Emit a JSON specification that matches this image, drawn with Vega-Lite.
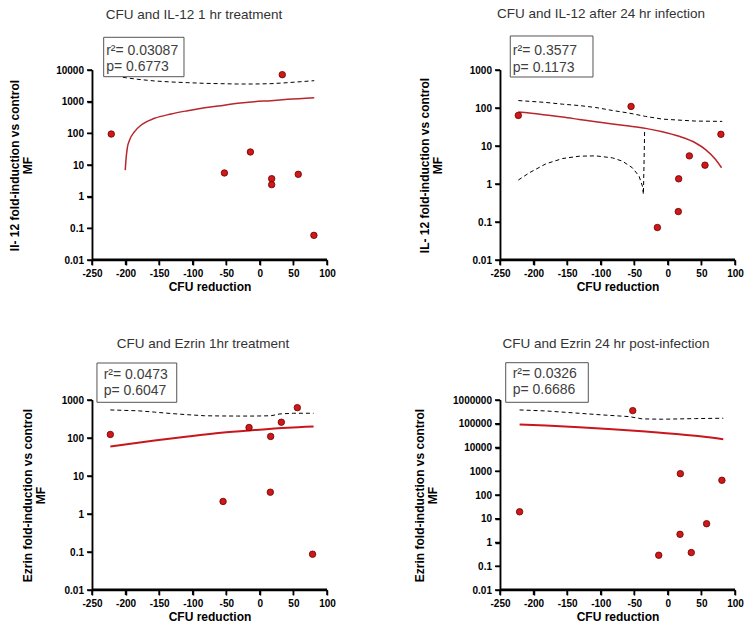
{
  "$schema": "https://vega.github.io/schema/vega-lite/v6.json",
  "padding": {"left": 8, "top": 6, "right": 2, "bottom": 2},
  "background": "white",
  "datasets": {
    "pts": [
      {"panel": "A", "cfu": -221.3, "fold": 95}, {"panel": "A", "cfu": -52.8, "fold": 5.6}, {"panel": "A", "cfu": -14.1, "fold": 25.8}, {"panel": "A", "cfu": 17.6, "fold": 3.7}, {"panel": "A", "cfu": 17.6, "fold": 2.4}, {"panel": "A", "cfu": 33.4, "fold": 7130}, {"panel": "A", "cfu": 57.2, "fold": 5.07}, {"panel": "A", "cfu": 80.5, "fold": 0.06},
      {"panel": "B", "cfu": -222.7, "fold": 63.8}, {"panel": "B", "cfu": -54.8, "fold": 110}, {"panel": "B", "cfu": -15.6, "fold": 0.0716}, {"panel": "B", "cfu": 16.1, "fold": 1.37}, {"panel": "B", "cfu": 15.6, "fold": 0.188}, {"panel": "B", "cfu": 32, "fold": 5.5}, {"panel": "B", "cfu": 55.3, "fold": 3.13}, {"panel": "B", "cfu": 79, "fold": 20.3},
      {"panel": "C", "cfu": -222.7, "fold": 124}, {"panel": "C", "cfu": -54.8, "fold": 2.14}, {"panel": "C", "cfu": -16.1, "fold": 189}, {"panel": "C", "cfu": 16.1, "fold": 110}, {"panel": "C", "cfu": 15.6, "fold": 3.75}, {"panel": "C", "cfu": 32, "fold": 260}, {"panel": "C", "cfu": 55.8, "fold": 630}, {"panel": "C", "cfu": 78.5, "fold": 0.0875},
      {"panel": "D", "cfu": -220.8, "fold": 19.6}, {"panel": "D", "cfu": -52.3, "fold": 357000}, {"panel": "D", "cfu": -13.6, "fold": 0.291}, {"panel": "D", "cfu": 18.6, "fold": 793}, {"panel": "D", "cfu": 18.1, "fold": 2.21}, {"panel": "D", "cfu": 34.9, "fold": 0.376}, {"panel": "D", "cfu": 57.7, "fold": 6.18}, {"panel": "D", "cfu": 80.5, "fold": 417}
    ],
    "frame": [
      {"panel": "A", "i": 0, "cfu": -249.3, "fold": 10000}, {"panel": "A", "i": 1, "cfu": -249.3, "fold": 0.0106}, {"panel": "A", "i": 2, "cfu": 100, "fold": 0.0106},
      {"panel": "B", "i": 0, "cfu": -249.3, "fold": 1000}, {"panel": "B", "i": 1, "cfu": -249.3, "fold": 0.0105}, {"panel": "B", "i": 2, "cfu": 100, "fold": 0.0105},
      {"panel": "C", "i": 0, "cfu": -249.3, "fold": 1000}, {"panel": "C", "i": 1, "cfu": -249.3, "fold": 0.0105}, {"panel": "C", "i": 2, "cfu": 100, "fold": 0.0105},
      {"panel": "D", "i": 0, "cfu": -249.3, "fold": 1000000}, {"panel": "D", "i": 1, "cfu": -249.3, "fold": 0.0108}, {"panel": "D", "i": 2, "cfu": 100, "fold": 0.0108}
    ],
    "xt": [{"cfu": -250}, {"cfu": -200}, {"cfu": -150}, {"cfu": -100}, {"cfu": -50}, {"cfu": 0}, {"cfu": 50}, {"cfu": 100}],
    "yt": [
      {"panel": "A", "fold": 0.01}, {"panel": "A", "fold": 0.1}, {"panel": "A", "fold": 1}, {"panel": "A", "fold": 10}, {"panel": "A", "fold": 100}, {"panel": "A", "fold": 1000}, {"panel": "A", "fold": 10000},
      {"panel": "B", "fold": 0.01}, {"panel": "B", "fold": 0.1}, {"panel": "B", "fold": 1}, {"panel": "B", "fold": 10}, {"panel": "B", "fold": 100}, {"panel": "B", "fold": 1000},
      {"panel": "C", "fold": 0.01}, {"panel": "C", "fold": 0.1}, {"panel": "C", "fold": 1}, {"panel": "C", "fold": 10}, {"panel": "C", "fold": 100}, {"panel": "C", "fold": 1000},
      {"panel": "D", "fold": 0.01}, {"panel": "D", "fold": 0.1}, {"panel": "D", "fold": 1}, {"panel": "D", "fold": 10}, {"panel": "D", "fold": 100}, {"panel": "D", "fold": 1000}, {"panel": "D", "fold": 10000}, {"panel": "D", "fold": 100000}, {"panel": "D", "fold": 1000000}
    ],
    "curves": [
      {"panel": "A", "curve": "fit", "cfu": -200.5, "fold": 6.9}, {"panel": "A", "curve": "fit", "cfu": -199.5, "fold": 14}, {"panel": "A", "curve": "fit", "cfu": -197.5, "fold": 33.6}, {"panel": "A", "curve": "fit", "cfu": -194, "fold": 61.6}, {"panel": "A", "curve": "fit", "cfu": -186.6, "fold": 113}, {"panel": "A", "curve": "fit", "cfu": -176.7, "fold": 183}, {"panel": "A", "curve": "fit", "cfu": -156.8, "fold": 298}, {"panel": "A", "curve": "fit", "cfu": -132, "fold": 408}, {"panel": "A", "curve": "fit", "cfu": -107.3, "fold": 520}, {"panel": "A", "curve": "fit", "cfu": -82.5, "fold": 647}, {"panel": "A", "curve": "fit", "cfu": -57.7, "fold": 748}, {"panel": "A", "curve": "fit", "cfu": -33, "fold": 886}, {"panel": "A", "curve": "fit", "cfu": -8.2, "fold": 1000}, {"panel": "A", "curve": "fit", "cfu": 16.6, "fold": 1077}, {"panel": "A", "curve": "fit", "cfu": 41.4, "fold": 1185}, {"panel": "A", "curve": "fit", "cfu": 81, "fold": 1337},
      {"panel": "A", "curve": "upper", "cfu": -204, "fold": 5870}, {"panel": "A", "curve": "upper", "cfu": -181.6, "fold": 5070}, {"panel": "A", "curve": "upper", "cfu": -156.8, "fold": 4500}, {"panel": "A", "curve": "upper", "cfu": -132, "fold": 4180}, {"panel": "A", "curve": "upper", "cfu": -107.3, "fold": 3980}, {"panel": "A", "curve": "upper", "cfu": -82.5, "fold": 3790}, {"panel": "A", "curve": "upper", "cfu": -57.7, "fold": 3700}, {"panel": "A", "curve": "upper", "cfu": -33, "fold": 3610}, {"panel": "A", "curve": "upper", "cfu": -8.2, "fold": 3610}, {"panel": "A", "curve": "upper", "cfu": 16.6, "fold": 3700}, {"panel": "A", "curve": "upper", "cfu": 41.4, "fold": 3980}, {"panel": "A", "curve": "upper", "cfu": 81, "fold": 4600},
      {"panel": "B", "curve": "fit", "cfu": -222.7, "fold": 78}, {"panel": "B", "curve": "fit", "cfu": -206.4, "fold": 73.5}, {"panel": "B", "curve": "fit", "cfu": -181.6, "fold": 65}, {"panel": "B", "curve": "fit", "cfu": -156.8, "fold": 57.7}, {"panel": "B", "curve": "fit", "cfu": -132, "fold": 50.1}, {"panel": "B", "curve": "fit", "cfu": -107.3, "fold": 43.5}, {"panel": "B", "curve": "fit", "cfu": -82.5, "fold": 37.9}, {"panel": "B", "curve": "fit", "cfu": -57.7, "fold": 33.5}, {"panel": "B", "curve": "fit", "cfu": -33, "fold": 29.1}, {"panel": "B", "curve": "fit", "cfu": -8.2, "fold": 23.8}, {"panel": "B", "curve": "fit", "cfu": 16.6, "fold": 18}, {"panel": "B", "curve": "fit", "cfu": 41.4, "fold": 12}, {"panel": "B", "curve": "fit", "cfu": 56.2, "fold": 8.05}, {"panel": "B", "curve": "fit", "cfu": 71.1, "fold": 4.4}, {"panel": "B", "curve": "fit", "cfu": 80, "fold": 2.67},
      {"panel": "B", "curve": "upper", "cfu": -222.7, "fold": 157}, {"panel": "B", "curve": "upper", "cfu": -181.6, "fold": 140}, {"panel": "B", "curve": "upper", "cfu": -156.8, "fold": 126}, {"panel": "B", "curve": "upper", "cfu": -132, "fold": 116}, {"panel": "B", "curve": "upper", "cfu": -107.3, "fold": 103}, {"panel": "B", "curve": "upper", "cfu": -82.5, "fold": 86}, {"panel": "B", "curve": "upper", "cfu": -57.7, "fold": 73.4}, {"panel": "B", "curve": "upper", "cfu": -33, "fold": 60}, {"panel": "B", "curve": "upper", "cfu": -8.2, "fold": 51}, {"panel": "B", "curve": "upper", "cfu": 16.6, "fold": 48}, {"panel": "B", "curve": "upper", "cfu": 41.4, "fold": 45.3}, {"panel": "B", "curve": "upper", "cfu": 81, "fold": 44.4},
      {"panel": "B", "curve": "lower", "cfu": -222.7, "fold": 1.27}, {"panel": "B", "curve": "lower", "cfu": -206.4, "fold": 1.97}, {"panel": "B", "curve": "lower", "cfu": -181.6, "fold": 3.4}, {"panel": "B", "curve": "lower", "cfu": -156.8, "fold": 4.68}, {"panel": "B", "curve": "lower", "cfu": -132, "fold": 5.39}, {"panel": "B", "curve": "lower", "cfu": -107.3, "fold": 5.5}, {"panel": "B", "curve": "lower", "cfu": -82.5, "fold": 4.87}, {"panel": "B", "curve": "lower", "cfu": -67.6, "fold": 3.98}, {"panel": "B", "curve": "lower", "cfu": -52.8, "fold": 2.67}, {"panel": "B", "curve": "lower", "cfu": -42.9, "fold": 1.61}, {"panel": "B", "curve": "lower", "cfu": -37.9, "fold": 0.88}, {"panel": "B", "curve": "lower", "cfu": -36.4, "fold": 0.534}, {"panel": "B", "curve": "lower", "cfu": -34.5, "fold": 29},
      {"panel": "C", "curve": "fit", "cfu": -222.7, "fold": 60}, {"panel": "C", "curve": "fit", "cfu": -156.8, "fold": 86}, {"panel": "C", "curve": "fit", "cfu": -107.3, "fold": 110}, {"panel": "C", "curve": "fit", "cfu": -57.7, "fold": 138}, {"panel": "C", "curve": "fit", "cfu": -8.2, "fold": 162}, {"panel": "C", "curve": "fit", "cfu": 41.4, "fold": 186}, {"panel": "C", "curve": "fit", "cfu": 80, "fold": 200},
      {"panel": "C", "curve": "upper", "cfu": -222.7, "fold": 547}, {"panel": "C", "curve": "upper", "cfu": -181.6, "fold": 520}, {"panel": "C", "curve": "upper", "cfu": -156.8, "fold": 480}, {"panel": "C", "curve": "upper", "cfu": -132, "fold": 440}, {"panel": "C", "curve": "upper", "cfu": -107.3, "fold": 410}, {"panel": "C", "curve": "upper", "cfu": -82.5, "fold": 385}, {"panel": "C", "curve": "upper", "cfu": -57.7, "fold": 380}, {"panel": "C", "curve": "upper", "cfu": -33, "fold": 378}, {"panel": "C", "curve": "upper", "cfu": -8.2, "fold": 378}, {"panel": "C", "curve": "upper", "cfu": 16.6, "fold": 385}, {"panel": "C", "curve": "upper", "cfu": 30, "fold": 430}, {"panel": "C", "curve": "upper", "cfu": 50, "fold": 448}, {"panel": "C", "curve": "upper", "cfu": 80, "fold": 448},
      {"panel": "D", "curve": "fit", "cfu": -220.8, "fold": 92500}, {"panel": "D", "curve": "fit", "cfu": -181.6, "fold": 84100}, {"panel": "D", "curve": "fit", "cfu": -132, "fold": 71600}, {"panel": "D", "curve": "fit", "cfu": -82.5, "fold": 59000}, {"panel": "D", "curve": "fit", "cfu": -33, "fold": 47100}, {"panel": "D", "curve": "fit", "cfu": 16.6, "fold": 36400}, {"panel": "D", "curve": "fit", "cfu": 51.3, "fold": 29100}, {"panel": "D", "curve": "fit", "cfu": 82.5, "fold": 22500},
      {"panel": "D", "curve": "upper", "cfu": -220.8, "fold": 381000}, {"panel": "D", "curve": "upper", "cfu": -181.6, "fold": 346000}, {"panel": "D", "curve": "upper", "cfu": -132, "fold": 276000}, {"panel": "D", "curve": "upper", "cfu": -97.4, "fold": 235000}, {"panel": "D", "curve": "upper", "cfu": -57.7, "fold": 200000}, {"panel": "D", "curve": "upper", "cfu": -37.9, "fold": 160000}, {"panel": "D", "curve": "upper", "cfu": -8.2, "fold": 155000}, {"panel": "D", "curve": "upper", "cfu": 41.4, "fold": 165000}, {"panel": "D", "curve": "upper", "cfu": 82.5, "fold": 171000}
    ],
    "stats": [
      {"panel": "A", "r2": "r²= 0.03087", "p": "p= 0.6773"},
      {"panel": "B", "r2": "r²= 0.3577", "p": "p= 0.1173"},
      {"panel": "C", "r2": "r²= 0.0473", "p": "p= 0.6047"},
      {"panel": "D", "r2": "r²= 0.0326", "p": "p= 0.6686"}
    ]
  },
  "columns": 2,
  "spacing": {"row": 43, "column": 77},
  "concat": [
    {
      "width": 235, "height": 190,
      "title": {"text": "CFU and IL-12 1 hr treatment", "dx": -15.5, "offset": 15},
      "layer": [
        {"data": {"name": "curves"}, "transform": [{"filter": "datum.panel === 'A' && datum.curve !== 'fit'"}],
         "mark": {"type": "line", "color": "black", "strokeWidth": 1, "strokeDash": [4, 3]},
         "encoding": {
           "x": {"field": "cfu", "type": "quantitative", "scale": {"domain": [-250, 100], "nice": false, "zero": false}, "axis": {"title": "CFU reduction", "tickCount": 8, "titlePadding": 3}},
           "y": {"field": "fold", "type": "quantitative", "scale": {"type": "log", "domain": [0.01, 10000], "nice": false}, "axis": {"title": ["Il- 12 fold-induction vs control", "MF"], "values": [0.01, 0.1, 1, 10, 100, 1000, 10000], "format": ".7~g", "titlePadding": 20.7}},
           "detail": {"field": "curve"}}},
        {"data": {"name": "frame"}, "transform": [{"filter": "datum.panel === 'A'"}],
         "mark": {"type": "line", "color": "black", "strokeWidth": 1.5},
         "encoding": {"x": {"field": "cfu", "type": "quantitative"}, "y": {"field": "fold", "type": "quantitative"}, "order": {"field": "i"}}},
        {"data": {"name": "xt"},
         "mark": {"type": "tick", "orient": "vertical", "size": 5, "thickness": 1.5, "color": "black", "opacity": 1, "yOffset": 2.5},
         "encoding": {"x": {"field": "cfu", "type": "quantitative"}, "y": {"datum": 0.01, "type": "quantitative"}}},
        {"data": {"name": "yt"}, "transform": [{"filter": "datum.panel === 'A'"}],
         "mark": {"type": "tick", "orient": "horizontal", "size": 5, "thickness": 1.5, "color": "black", "opacity": 1, "xOffset": -2.5},
         "encoding": {"y": {"field": "fold", "type": "quantitative"}, "x": {"datum": -250, "type": "quantitative"}}},
        {"data": {"name": "curves"}, "transform": [{"filter": "datum.panel === 'A' && datum.curve === 'fit'"}],
         "mark": {"type": "line", "color": "#b8262c", "strokeWidth": 1.5, "interpolate": "monotone"},
         "encoding": {"x": {"field": "cfu", "type": "quantitative"}, "y": {"field": "fold", "type": "quantitative"}}},
        {"data": {"name": "pts"}, "transform": [{"filter": "datum.panel === 'A'"}],
         "mark": {"type": "circle", "size": 42, "fill": "#d01818", "stroke": "#6a0000", "strokeWidth": 0.8, "opacity": 1},
         "encoding": {"x": {"field": "cfu", "type": "quantitative"}, "y": {"field": "fold", "type": "quantitative"}}},
        {"data": {"name": "stats"}, "transform": [{"filter": "datum.panel === 'A'"}],
         "mark": {"type": "rect", "fill": "white", "stroke": "#555555", "strokeWidth": 1},
         "encoding": {"x": {"datum": -232.6, "type": "quantitative"}, "x2": {"datum": -113}, "y": {"datum": 107800, "type": "quantitative"}, "y2": {"datum": 6143}}},
        {"data": {"name": "stats"}, "transform": [{"filter": "datum.panel === 'A'"}],
         "mark": {"type": "text", "align": "left", "baseline": "alphabetic", "fontSize": 14, "color": "#404040"},
         "encoding": {"x": {"datum": -228.9, "type": "quantitative"}, "y": {"datum": 29770, "type": "quantitative"}, "text": {"field": "r2"}}},
        {"data": {"name": "stats"}, "transform": [{"filter": "datum.panel === 'A'"}],
         "mark": {"type": "text", "align": "left", "baseline": "alphabetic", "fontSize": 14, "color": "#404040"},
         "encoding": {"x": {"datum": -228.9, "type": "quantitative"}, "y": {"datum": 8968, "type": "quantitative"}, "text": {"field": "p"}}}
      ]
    },
    {
      "width": 235, "height": 190,
      "title": {"text": "CFU and IL-12 after 24 hr infection", "dx": -16.5, "offset": 15},
      "layer": [
        {"data": {"name": "curves"}, "transform": [{"filter": "datum.panel === 'B' && datum.curve !== 'fit'"}],
         "mark": {"type": "line", "color": "black", "strokeWidth": 1, "strokeDash": [4, 3]},
         "encoding": {
           "x": {"field": "cfu", "type": "quantitative", "scale": {"domain": [-250, 100], "nice": false, "zero": false}, "axis": {"title": "CFU reduction", "tickCount": 8, "titlePadding": 3}},
           "y": {"field": "fold", "type": "quantitative", "scale": {"type": "log", "domain": [0.01, 1000], "nice": false}, "axis": {"title": ["IL- 12 fold-induction vs control", "MF"], "values": [0.01, 0.1, 1, 10, 100, 1000], "format": ".7~g", "titlePadding": 24.3}},
           "detail": {"field": "curve"}}},
        {"data": {"name": "frame"}, "transform": [{"filter": "datum.panel === 'B'"}],
         "mark": {"type": "line", "color": "black", "strokeWidth": 1.5},
         "encoding": {"x": {"field": "cfu", "type": "quantitative"}, "y": {"field": "fold", "type": "quantitative"}, "order": {"field": "i"}}},
        {"data": {"name": "xt"},
         "mark": {"type": "tick", "orient": "vertical", "size": 5, "thickness": 1.5, "color": "black", "opacity": 1, "yOffset": 2.5},
         "encoding": {"x": {"field": "cfu", "type": "quantitative"}, "y": {"datum": 0.01, "type": "quantitative"}}},
        {"data": {"name": "yt"}, "transform": [{"filter": "datum.panel === 'B'"}],
         "mark": {"type": "tick", "orient": "horizontal", "size": 5, "thickness": 1.5, "color": "black", "opacity": 1, "xOffset": -2.5},
         "encoding": {"y": {"field": "fold", "type": "quantitative"}, "x": {"datum": -250, "type": "quantitative"}}},
        {"data": {"name": "curves"}, "transform": [{"filter": "datum.panel === 'B' && datum.curve === 'fit'"}],
         "mark": {"type": "line", "color": "#b8262c", "strokeWidth": 1.5, "interpolate": "monotone"},
         "encoding": {"x": {"field": "cfu", "type": "quantitative"}, "y": {"field": "fold", "type": "quantitative"}}},
        {"data": {"name": "pts"}, "transform": [{"filter": "datum.panel === 'B'"}],
         "mark": {"type": "circle", "size": 42, "fill": "#d01818", "stroke": "#6a0000", "strokeWidth": 0.8, "opacity": 1},
         "encoding": {"x": {"field": "cfu", "type": "quantitative"}, "y": {"field": "fold", "type": "quantitative"}}},
        {"data": {"name": "stats"}, "transform": [{"filter": "datum.panel === 'B'"}],
         "mark": {"type": "rect", "fill": "white", "stroke": "#555555", "strokeWidth": 1},
         "encoding": {"x": {"datum": -234.7, "type": "quantitative"}, "x2": {"datum": -111.5}, "y": {"datum": 7848, "type": "quantitative"}, "y2": {"datum": 654}}},
        {"data": {"name": "stats"}, "transform": [{"filter": "datum.panel === 'B'"}],
         "mark": {"type": "text", "align": "left", "baseline": "alphabetic", "fontSize": 14, "color": "#404040"},
         "encoding": {"x": {"datum": -230.9, "type": "quantitative"}, "y": {"datum": 2481, "type": "quantitative"}, "text": {"field": "r2"}}},
        {"data": {"name": "stats"}, "transform": [{"filter": "datum.panel === 'B'"}],
         "mark": {"type": "text", "align": "left", "baseline": "alphabetic", "fontSize": 14, "color": "#404040"},
         "encoding": {"x": {"datum": -230.9, "type": "quantitative"}, "y": {"datum": 913, "type": "quantitative"}, "text": {"field": "p"}}}
      ]
    },
    {
      "width": 235, "height": 190,
      "title": {"text": "CFU and Ezrin 1hr treatment", "dx": -6.5, "offset": 12},
      "layer": [
        {"data": {"name": "curves"}, "transform": [{"filter": "datum.panel === 'C' && datum.curve !== 'fit'"}],
         "mark": {"type": "line", "color": "black", "strokeWidth": 1, "strokeDash": [4, 3]},
         "encoding": {
           "x": {"field": "cfu", "type": "quantitative", "scale": {"domain": [-250, 100], "nice": false, "zero": false}, "axis": {"title": "CFU reduction", "tickCount": 8, "titlePadding": 3}},
           "y": {"field": "fold", "type": "quantitative", "scale": {"type": "log", "domain": [0.01, 1000], "nice": false}, "axis": {"title": ["Ezrin fold-induction vs control", "MF"], "values": [0.01, 0.1, 1, 10, 100, 1000], "format": ".7~g", "titlePadding": 13.3}},
           "detail": {"field": "curve"}}},
        {"data": {"name": "frame"}, "transform": [{"filter": "datum.panel === 'C'"}],
         "mark": {"type": "line", "color": "black", "strokeWidth": 1.5},
         "encoding": {"x": {"field": "cfu", "type": "quantitative"}, "y": {"field": "fold", "type": "quantitative"}, "order": {"field": "i"}}},
        {"data": {"name": "xt"},
         "mark": {"type": "tick", "orient": "vertical", "size": 5, "thickness": 1.5, "color": "black", "opacity": 1, "yOffset": 2.5},
         "encoding": {"x": {"field": "cfu", "type": "quantitative"}, "y": {"datum": 0.01, "type": "quantitative"}}},
        {"data": {"name": "yt"}, "transform": [{"filter": "datum.panel === 'C'"}],
         "mark": {"type": "tick", "orient": "horizontal", "size": 5, "thickness": 1.5, "color": "black", "opacity": 1, "xOffset": -2.5},
         "encoding": {"y": {"field": "fold", "type": "quantitative"}, "x": {"datum": -250, "type": "quantitative"}}},
        {"data": {"name": "curves"}, "transform": [{"filter": "datum.panel === 'C' && datum.curve === 'fit'"}],
         "mark": {"type": "line", "color": "#c8161c", "strokeWidth": 2, "interpolate": "monotone"},
         "encoding": {"x": {"field": "cfu", "type": "quantitative"}, "y": {"field": "fold", "type": "quantitative"}}},
        {"data": {"name": "pts"}, "transform": [{"filter": "datum.panel === 'C'"}],
         "mark": {"type": "circle", "size": 42, "fill": "#d01818", "stroke": "#6a0000", "strokeWidth": 0.8, "opacity": 1},
         "encoding": {"x": {"field": "cfu", "type": "quantitative"}, "y": {"field": "fold", "type": "quantitative"}}},
        {"data": {"name": "stats"}, "transform": [{"filter": "datum.panel === 'C'"}],
         "mark": {"type": "rect", "fill": "white", "stroke": "#555555", "strokeWidth": 1},
         "encoding": {"x": {"datum": -242.6, "type": "quantitative"}, "x2": {"datum": -123.8}, "y": {"datum": 9412, "type": "quantitative"}, "y2": {"datum": 870}}},
        {"data": {"name": "stats"}, "transform": [{"filter": "datum.panel === 'C'"}],
         "mark": {"type": "text", "align": "left", "baseline": "alphabetic", "fontSize": 14, "color": "#404040"},
         "encoding": {"x": {"datum": -232.6, "type": "quantitative"}, "y": {"datum": 3570, "type": "quantitative"}, "text": {"field": "r2"}}},
        {"data": {"name": "stats"}, "transform": [{"filter": "datum.panel === 'C'"}],
         "mark": {"type": "text", "align": "left", "baseline": "alphabetic", "fontSize": 14, "color": "#404040"},
         "encoding": {"x": {"datum": -232.6, "type": "quantitative"}, "y": {"datum": 1354, "type": "quantitative"}, "text": {"field": "p"}}}
      ]
    },
    {
      "width": 235, "height": 190,
      "title": {"text": "CFU and Ezrin 24 hr post-infection", "dx": -11.5, "offset": 12},
      "layer": [
        {"data": {"name": "curves"}, "transform": [{"filter": "datum.panel === 'D' && datum.curve !== 'fit'"}],
         "mark": {"type": "line", "color": "black", "strokeWidth": 1, "strokeDash": [4, 3]},
         "encoding": {
           "x": {"field": "cfu", "type": "quantitative", "scale": {"domain": [-250, 100], "nice": false, "zero": false}, "axis": {"title": "CFU reduction", "tickCount": 8, "titlePadding": 3}},
           "y": {"field": "fold", "type": "quantitative", "scale": {"type": "log", "domain": [0.01, 1000000], "nice": false}, "axis": {"title": ["Ezrin fold-induction vs control", "MF"], "values": [0.01, 0.1, 1, 10, 100, 1000, 10000, 100000, 1000000], "format": ".7~g", "titlePadding": 12.6}},
           "detail": {"field": "curve"}}},
        {"data": {"name": "frame"}, "transform": [{"filter": "datum.panel === 'D'"}],
         "mark": {"type": "line", "color": "black", "strokeWidth": 1.5},
         "encoding": {"x": {"field": "cfu", "type": "quantitative"}, "y": {"field": "fold", "type": "quantitative"}, "order": {"field": "i"}}},
        {"data": {"name": "xt"},
         "mark": {"type": "tick", "orient": "vertical", "size": 5, "thickness": 1.5, "color": "black", "opacity": 1, "yOffset": 2.5},
         "encoding": {"x": {"field": "cfu", "type": "quantitative"}, "y": {"datum": 0.01, "type": "quantitative"}}},
        {"data": {"name": "yt"}, "transform": [{"filter": "datum.panel === 'D'"}],
         "mark": {"type": "tick", "orient": "horizontal", "size": 5, "thickness": 1.5, "color": "black", "opacity": 1, "xOffset": -2.5},
         "encoding": {"y": {"field": "fold", "type": "quantitative"}, "x": {"datum": -250, "type": "quantitative"}}},
        {"data": {"name": "curves"}, "transform": [{"filter": "datum.panel === 'D' && datum.curve === 'fit'"}],
         "mark": {"type": "line", "color": "#c8161c", "strokeWidth": 2, "interpolate": "monotone"},
         "encoding": {"x": {"field": "cfu", "type": "quantitative"}, "y": {"field": "fold", "type": "quantitative"}}},
        {"data": {"name": "pts"}, "transform": [{"filter": "datum.panel === 'D'"}],
         "mark": {"type": "circle", "size": 42, "fill": "#d01818", "stroke": "#6a0000", "strokeWidth": 0.8, "opacity": 1},
         "encoding": {"x": {"field": "cfu", "type": "quantitative"}, "y": {"field": "fold", "type": "quantitative"}}},
        {"data": {"name": "stats"}, "transform": [{"filter": "datum.panel === 'D'"}],
         "mark": {"type": "rect", "fill": "white", "stroke": "#555555", "strokeWidth": 1},
         "encoding": {"x": {"datum": -241.5, "type": "quantitative"}, "x2": {"datum": -118.5}, "y": {"datum": 37200000, "type": "quantitative"}, "y2": {"datum": 800000}}},
        {"data": {"name": "stats"}, "transform": [{"filter": "datum.panel === 'D'"}],
         "mark": {"type": "text", "align": "left", "baseline": "alphabetic", "fontSize": 14, "color": "#404040"},
         "encoding": {"x": {"datum": -231.1, "type": "quantitative"}, "y": {"datum": 8690000, "type": "quantitative"}, "text": {"field": "r2"}}},
        {"data": {"name": "stats"}, "transform": [{"filter": "datum.panel === 'D'"}],
         "mark": {"type": "text", "align": "left", "baseline": "alphabetic", "fontSize": 14, "color": "#404040"},
         "encoding": {"x": {"datum": -231.1, "type": "quantitative"}, "y": {"datum": 1789000, "type": "quantitative"}, "text": {"field": "p"}}}
      ]
    }
  ],
  "config": {
    "locale": {"number": {"decimal": ".", "thousands": ",", "grouping": [3], "currency": ["$", ""], "minus": "-"}},
    "view": {"stroke": null},
    "font": "Liberation Sans",
    "axis": {"grid": false, "domainColor": "black", "domainWidth": 1.5, "tickColor": "black", "tickWidth": 1.5, "tickSize": 5, "labelFont": "Liberation Sans", "labelFontWeight": "bold", "labelFontSize": 10, "labelColor": "black", "labelPadding": 3.5, "labelOverlap": false, "labelFlush": false, "titleFont": "Liberation Sans", "titleFontWeight": "bold", "titleFontSize": 12, "titleColor": "black", "titleLineHeight": 13},
    "title": {"font": "Liberation Sans", "fontSize": 13.5, "fontWeight": "normal", "color": "#333333", "anchor": "middle", "frame": "group", "baseline": "alphabetic"}
  }
}
